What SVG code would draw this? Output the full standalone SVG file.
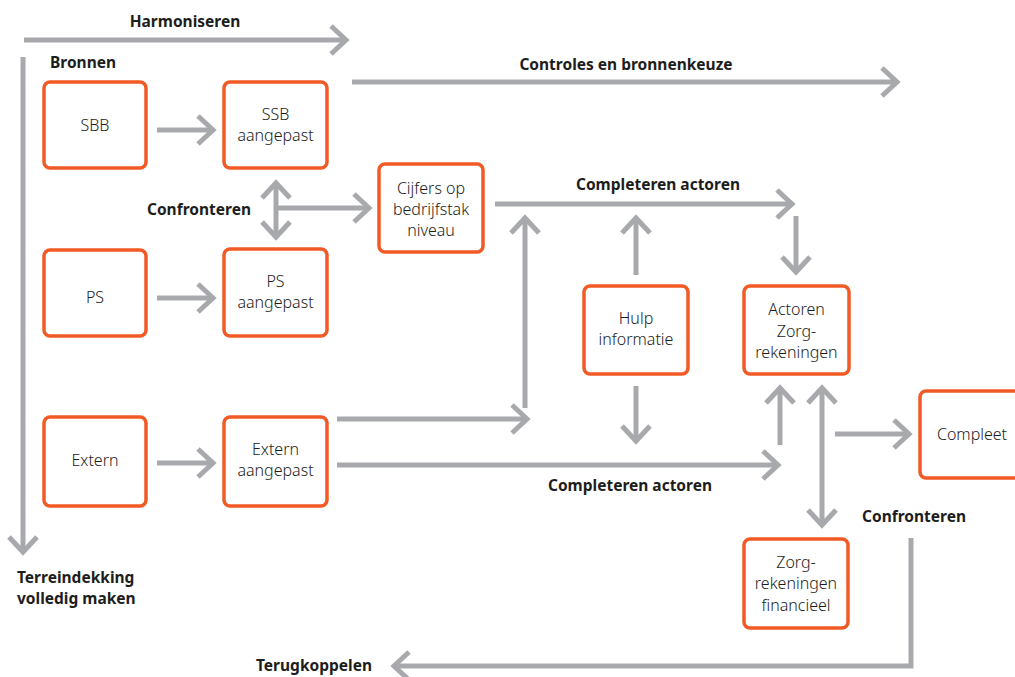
<svg xmlns="http://www.w3.org/2000/svg" width="1015" height="677" viewBox="0 0 1015 677">
<defs>
<marker id="ah" markerUnits="userSpaceOnUse" markerWidth="40" markerHeight="40" viewBox="-20 -20 40 40" refX="0" refY="0" orient="auto-start-reverse" overflow="visible">
<path d="M-15,-14 L0,0 L-15,14" fill="none" stroke="#a7a9ac" stroke-width="5"/>
</marker>
<style>
.box{fill:#fff;stroke:#f15a24;stroke-width:3.5}
.nt{font-family:"Noto Sans","DejaVu Sans",sans-serif;font-size:16px;font-weight:300;fill:#1d1d1b;text-anchor:middle}
.lb{font-family:"Noto Sans","DejaVu Sans",sans-serif;font-size:15.5px;font-weight:700;fill:#1d1d1b}
.c{fill:none;stroke:#a7a9ac;stroke-width:5}
.a{marker-end:url(#ah)}
.d{marker-start:url(#ah);marker-end:url(#ah)}
</style>
</defs>
<rect width="1015" height="677" fill="#fff"/>
<g id="connectors">
<path class="c a" d="M24,40 H346"/>
<path class="c a" d="M23,57 V552"/>
<path class="c a" d="M157,130 H213"/>
<path class="c a" d="M352,82 H897"/>
<path class="c d" d="M276,183 V237"/>
<path class="c a" d="M276,208 H369"/>
<path class="c a" d="M157,298 H213"/>
<path class="c a" d="M157,463 H213"/>
<path class="c a" d="M495,204 H792"/>
<path class="c a" d="M337,419 H527"/>
<path class="c a" d="M525,408 V218"/>
<path class="c a" d="M636,275 V218"/>
<path class="c a" d="M636,386 V441"/>
<path class="c a" d="M796,216 V272"/>
<path class="c a" d="M337,465 H778"/>
<path class="c a" d="M780,445 V388"/>
<path class="c d" d="M822,388 V525"/>
<path class="c a" d="M835,434 H909"/>
<path class="c a" d="M911,538 V666 H394"/>
</g>
<g id="labels">
<text class="lb" x="185" y="27" text-anchor="middle">Harmoniseren</text>
<text class="lb" x="50" y="68">Bronnen</text>
<text class="lb" x="626" y="70" text-anchor="middle">Controles en bronnenkeuze</text>
<text class="lb" x="251" y="215" text-anchor="end">Confronteren</text>
<text class="lb" x="658" y="190" text-anchor="middle">Completeren actoren</text>
<text class="lb" x="630" y="491" text-anchor="middle">Completeren actoren</text>
<text class="lb" x="862" y="522">Confronteren</text>
<text class="lb" x="17" y="583">Terreindekking</text>
<text class="lb" x="17" y="604">volledig maken</text>
<text class="lb" x="372" y="671" text-anchor="end">Terugkoppelen</text>
</g>
<g id="sbb"><rect class="box" x="44" y="82" width="102" height="86" rx="6"/><text class="nt" x="95" y="131">SBB</text></g>
<g id="ssb-aangepast"><rect class="box" x="224" y="82" width="103" height="86" rx="6"/><text class="nt" x="275.5" y="120">SSB</text><text class="nt" x="275.5" y="141">aangepast</text></g>
<g id="cijfers"><rect class="box" x="379" y="164" width="104" height="88" rx="6"/><text class="nt" x="431" y="194">Cijfers op</text><text class="nt" x="431" y="215">bedrijfstak</text><text class="nt" x="431" y="236">niveau</text></g>
<g id="ps"><rect class="box" x="44" y="250" width="102" height="86" rx="6"/><text class="nt" x="95" y="303">PS</text></g>
<g id="ps-aangepast"><rect class="box" x="224" y="249" width="103" height="87" rx="6"/><text class="nt" x="275.5" y="287">PS</text><text class="nt" x="275.5" y="308">aangepast</text></g>
<g id="extern"><rect class="box" x="44" y="417" width="102" height="89" rx="6"/><text class="nt" x="95" y="466">Extern</text></g>
<g id="extern-aangepast"><rect class="box" x="224" y="417" width="103" height="89" rx="6"/><text class="nt" x="275.5" y="455">Extern</text><text class="nt" x="275.5" y="476">aangepast</text></g>
<g id="hulp"><rect class="box" x="584" y="286" width="104" height="88" rx="6"/><text class="nt" x="636" y="324">Hulp</text><text class="nt" x="636" y="345">informatie</text></g>
<g id="actoren"><rect class="box" x="744" y="286" width="105" height="88" rx="6"/><text class="nt" x="796.5" y="315">Actoren</text><text class="nt" x="796.5" y="337">Zorg-</text><text class="nt" x="796.5" y="358">rekeningen</text></g>
<g id="compleet"><rect class="box" x="920" y="391" width="115" height="87" rx="6"/><text class="nt" x="972" y="440">Compleet</text></g>
<g id="zorg-fin"><rect class="box" x="744" y="539" width="104" height="89" rx="6"/><text class="nt" x="796" y="568">Zorg-</text><text class="nt" x="796" y="589">rekeningen</text><text class="nt" x="796" y="611">financieel</text></g>
</svg>
